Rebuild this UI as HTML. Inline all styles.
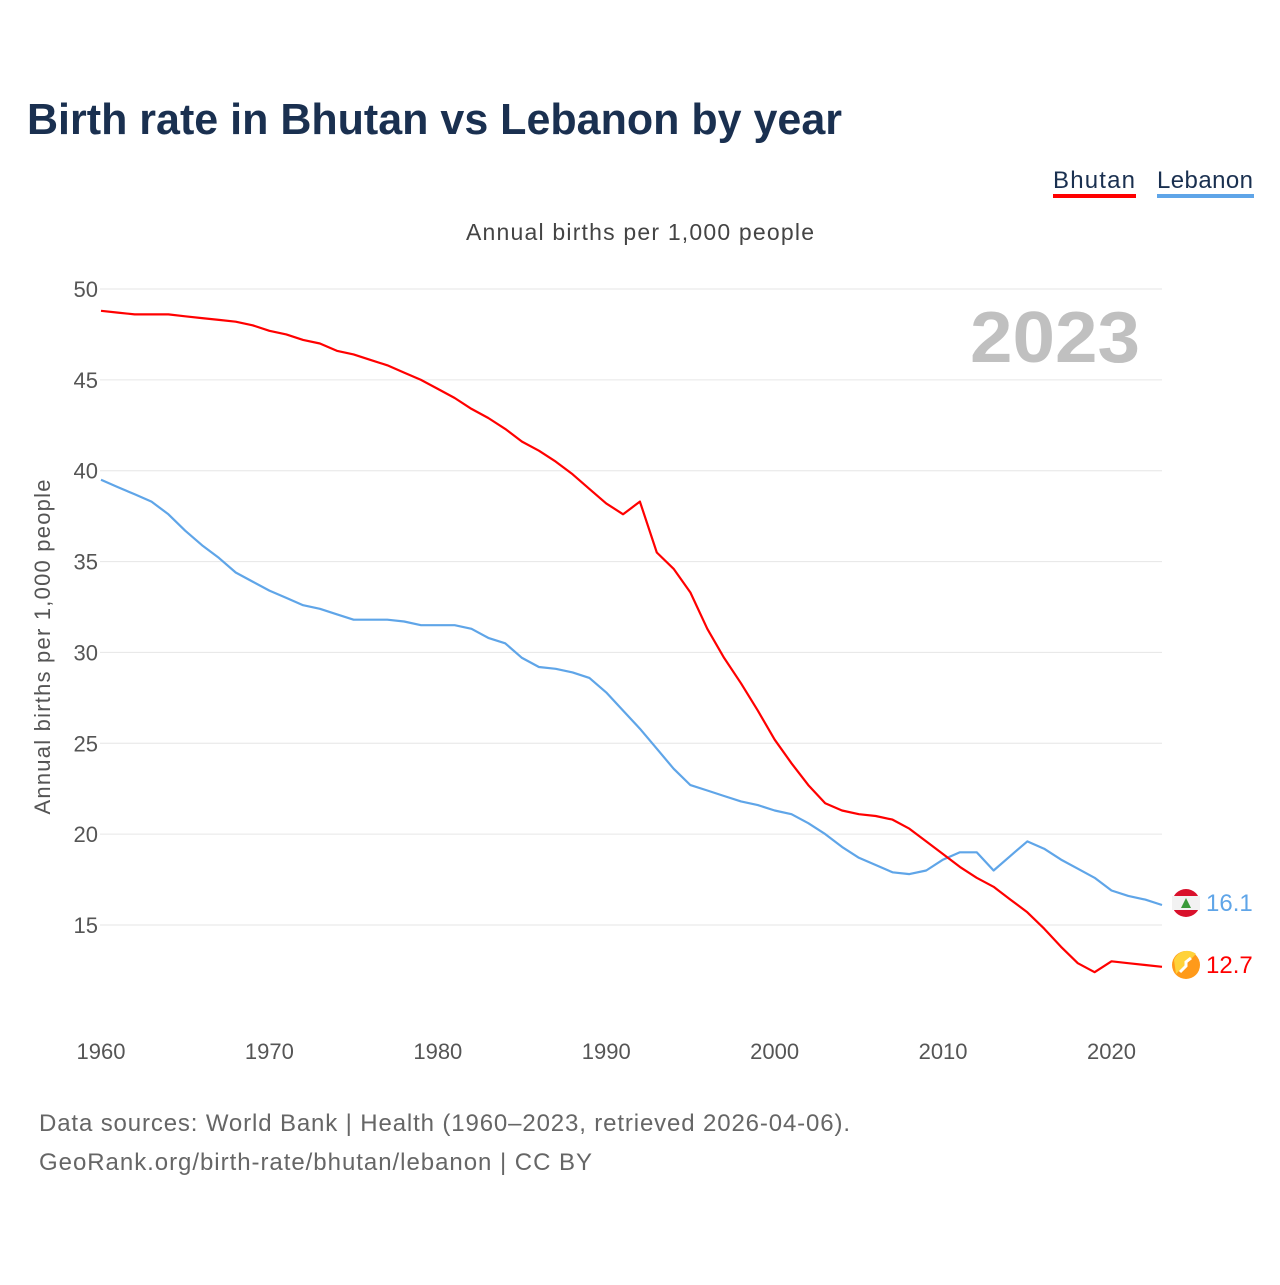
<!DOCTYPE html>
<html><head><meta charset="utf-8"><style>
body{margin:0;width:1280px;height:1280px;background:#fff;font-family:"Liberation Sans",sans-serif;overflow:hidden}
</style></head><body>
<svg width="1280" height="1280" xmlns="http://www.w3.org/2000/svg">
<text x="27" y="134" font-size="44" font-weight="bold" fill="#1a3050" textLength="815" lengthAdjust="spacingAndGlyphs">Birth rate in Bhutan vs Lebanon by year</text>
<g><text x="1094" y="188" font-size="24" fill="#1a3050" text-anchor="middle" textLength="82">Bhutan</text><rect x="1053" y="194" width="83" height="4" fill="#ff0000"/></g>
<g><text x="1205" y="188" font-size="24" fill="#1a3050" text-anchor="middle" textLength="96">Lebanon</text><rect x="1157" y="194" width="97" height="4" fill="#5fa5e8"/></g>
<text x="640" y="240" font-size="23" fill="#444" text-anchor="middle" textLength="348">Annual births per 1,000 people</text>
<text x="1140" y="362" font-size="72" font-weight="bold" fill="#c0c0c0" text-anchor="end" textLength="170" lengthAdjust="spacingAndGlyphs">2023</text>
<text transform="translate(50,647) rotate(-90)" font-size="22" fill="#555" text-anchor="middle" textLength="335">Annual births per 1,000 people</text>
<g id="grid"></g><g id="lines"></g>
<g><circle cx="1186" cy="903" r="14" fill="#d9112c"/><rect x="1172" y="896" width="28" height="14" fill="#f2f2f2"/><polygon points="1186,898 1181,908 1191,908" fill="#3a9a3a"/></g>
<text x="1206" y="911" font-size="24" fill="#5fa5e8">16.1</text>
<g><circle cx="1186" cy="965" r="14" fill="#ff9a1a"/><path d="M1174,960 A14,14 0 0 1 1196,954 L1176,974 Z" fill="#ffd23a"/><path d="M1180,972 l6,-6 l0,-4 l5,-4" stroke="#fff" stroke-width="3" fill="none"/></g>
<text x="1206" y="973" font-size="24" fill="#ff0000">12.7</text>
<text x="39" y="1131" font-size="24" fill="#666" textLength="811">Data sources: World Bank | Health (1960–2023, retrieved 2026-04-06).</text>
<text x="39" y="1170" font-size="24" fill="#666" textLength="553">GeoRank.org/birth-rate/bhutan/lebanon | CC BY</text>
</svg>
<script>
const years=[];for(let y=1960;y<=2023;y++)years.push(y);
const bhutan=[48.8,48.7,48.6,48.6,48.6,48.5,48.4,48.3,48.2,48.0,47.7,47.5,47.2,47.0,46.6,46.4,46.1,45.8,45.4,45.0,44.5,44.0,43.4,42.9,42.3,41.6,41.1,40.5,39.8,39.0,38.2,37.6,38.3,35.5,34.6,33.3,31.3,29.7,28.3,26.8,25.2,23.9,22.7,21.7,21.3,21.1,21.0,20.8,20.3,19.6,18.9,18.2,17.6,17.1,16.4,15.7,14.8,13.8,12.9,12.4,13.0,12.9,12.8,12.7];
const lebanon=[39.5,39.1,38.7,38.3,37.6,36.7,35.9,35.2,34.4,33.9,33.4,33.0,32.6,32.4,32.1,31.8,31.8,31.8,31.7,31.5,31.5,31.5,31.3,30.8,30.5,29.7,29.2,29.1,28.9,28.6,27.8,26.8,25.8,24.7,23.6,22.7,22.4,22.1,21.8,21.6,21.3,21.1,20.6,20.0,19.3,18.7,18.3,17.9,17.8,18.0,18.6,19.0,19.0,18.0,18.8,19.6,19.2,18.6,18.1,17.6,16.9,16.6,16.4,16.1];
const yTicks=[15,20,25,30,35,40,45,50];
const xTicks=[1960,1970,1980,1990,2000,2010,2020];
const X=y=>101+(y-1960)*(1061/63);
const Y=v=>289+(50-v)*(636/35);
const NS='http://www.w3.org/2000/svg';
const grid=document.getElementById('grid'),lines=document.getElementById('lines');
function mk(t,a,p){const e=document.createElementNS(NS,t);for(const k in a)e.setAttribute(k,a[k]);p.appendChild(e);return e;}
yTicks.forEach(v=>{
 const l=mk('line',{x1:100,x2:1162,y1:Y(v),y2:Y(v),stroke:'#e6e6e6','stroke-width':1},grid);
 
 
 const t=mk('text',{x:98,y:Y(v)+8,'font-size':22,fill:'#555','text-anchor':'end'},grid);t.textContent=v;
 
 
});
xTicks.forEach(v=>{
 const t=mk('text',{x:X(v),y:1059,'font-size':22,fill:'#555','text-anchor':'middle'},grid);t.textContent=v;
 
 
});
function line(data,color,name){
 const p=mk('path',{d:data.map((v,i)=>(i?'L':'M')+X(years[i]).toFixed(1)+','+Y(v).toFixed(1)).join(''),fill:'none',stroke:color,'stroke-width':2.2,'stroke-linejoin':'round'},lines);
 
 
}
line(lebanon,'#5fa5e8','lebanon-line');
line(bhutan,'#ff0000','bhutan-line');
</script>
</body></html>
